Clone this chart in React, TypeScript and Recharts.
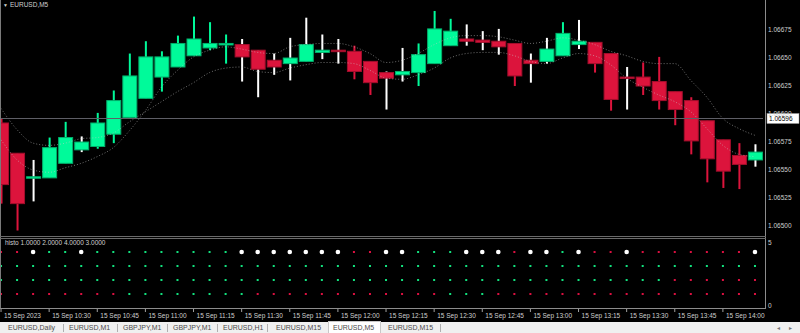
import { ComposedChart, Bar, Line, XAxis, YAxis, ReferenceLine } from "recharts";

// EURUSD M5, 15 Sep 2023, bars from 10:15 to 14:10 (heiken ashi style candles)
const open = [
  1.06592, 1.06565, 1.06543, 1.06543, 1.06556, 1.06568, 1.06571, 1.06582, 1.06597, 1.06614,
  1.06633, 1.06642, 1.06652, 1.06659, 1.06662, 1.06662, 1.06657, 1.06648, 1.06645, 1.06647,
  1.06655, 1.06657, 1.06656, 1.06647, 1.06637, 1.06635, 1.06637, 1.06645, 1.06661, 1.06667,
  1.06666, 1.06665, 1.06663, 1.06648, 1.06647, 1.06652, 1.06662, 1.06664, 1.06654, 1.06633,
  1.06633, 1.06629, 1.0662, 1.06612, 1.06594, 1.06577, 1.06563, 1.06559,
];
const high = [
  1.06596, 1.06565, 1.06559, 1.06579, 1.06593, 1.0658, 1.06601, 1.06621, 1.06654, 1.06665,
  1.06656, 1.0667, 1.06687, 1.06682, 1.06671, 1.06667, 1.06657, 1.06654, 1.06668, 1.06686,
  1.06671, 1.06667, 1.06661, 1.06647, 1.06638, 1.06659, 1.06663, 1.06692, 1.06685, 1.0668,
  1.06674, 1.06676, 1.06663, 1.06654, 1.06668, 1.06682, 1.06684, 1.06664, 1.06654, 1.06642,
  1.06646, 1.06651, 1.0662, 1.06615, 1.06594, 1.06577, 1.06574, 1.06573,
];
const low = [
  1.0652, 1.06496, 1.06522, 1.06543, 1.06556, 1.06566, 1.06569, 1.06574, 1.06597, 1.06614,
  1.0662, 1.06642, 1.06652, 1.06657, 1.06645, 1.06629, 1.06615, 1.06635, 1.0663, 1.06647,
  1.06649, 1.06645, 1.06631, 1.06617, 1.06604, 1.06629, 1.06625, 1.06645, 1.06661, 1.06661,
  1.06657, 1.06653, 1.06625, 1.06628, 1.06645, 1.06652, 1.06658, 1.06637, 1.06603, 1.06604,
  1.06617, 1.06604, 1.0659, 1.06564, 1.06539, 1.06534, 1.06533, 1.06553,
];
const close = [
  1.06537, 1.0652, 1.06544, 1.0657, 1.06579, 1.06575, 1.06592, 1.06612, 1.06634, 1.06651,
  1.06651, 1.06663, 1.06667, 1.06663, 1.06663, 1.06651, 1.0664, 1.06642, 1.0665, 1.06662,
  1.06657, 1.06656, 1.06638, 1.06628, 1.06632, 1.06638, 1.06653, 1.06676, 1.06674, 1.06665,
  1.06664, 1.0666, 1.06634, 1.06645, 1.06658, 1.06672, 1.06665, 1.06645, 1.06613, 1.06632,
  1.06625, 1.06612, 1.06604, 1.06576, 1.0656, 1.06549, 1.06555, 1.06566,
];

// the two dotted moving averages
const maFast = [
  1.06577, 1.06559, 1.0655, 1.06548, 1.06552, 1.06556, 1.06562, 1.0657, 1.06585, 1.06603,
  1.06624, 1.06639, 1.06651, 1.06657, 1.0666, 1.06658, 1.06655, 1.06654, 1.0666, 1.06662,
  1.06663, 1.06663, 1.0666, 1.06654, 1.06646, 1.06648, 1.06654, 1.06662, 1.06668, 1.0667,
  1.0667, 1.06669, 1.06666, 1.06663, 1.06665, 1.06668, 1.06666, 1.06662, 1.06656, 1.06652,
  1.06647, 1.06645, 1.06645, 1.0663, 1.06615, 1.06596, 1.06587, 1.06581,
];
const maSlow = [
  1.06605, 1.06586, 1.06574, 1.06572, 1.06574, 1.06578, 1.06579, 1.06583, 1.06593, 1.06602,
  1.06611, 1.0662, 1.06628, 1.06637, 1.06641, 1.06642, 1.06638, 1.06637, 1.06641, 1.06644,
  1.06646, 1.06646, 1.06645, 1.06639, 1.06632, 1.06631, 1.06635, 1.06641, 1.0665, 1.06654,
  1.06655, 1.06655, 1.06652, 1.06647, 1.06645, 1.0665, 1.06654, 1.06652, 1.06644, 1.06632,
  1.06624, 1.06617, 1.06611, 1.06602, 1.06587, 1.06572, 1.06564, 1.06562,
];

// histo rows: u = up (green), d = down (red), n = neutral (white)
const sig4 = ("ddnuun" + "uuuuuuuuu" + "nnnnnnn" + "ddnnuuunnndnnunddn" + "ddddddd" + "n").split("");
const sig3 = ("uuuuuuuuuuuu" + "uuuuuuuuuuuu" + "uuuuuuuuuuuu" + "uuuuuuuuuuuu").split("");
const sig2 = ("uuuuuuuuuuuu" + "uuuuuuuuuuuu" + "uuuuuuuuuuuu" + "uuuuuu" + "dddddd").split("");
const sig1 = ("dddddddd" + "uuuuuuuu" + "dddddddddddd" + "uuu" + "ddddddddddddddddd").split("");

const tickBars = [0, 3, 6, 9, 12, 15, 18, 21, 24, 27, 30, 33, 36, 39, 42, 45];
const tickLabels = [
  "15 Sep 2023", "15 Sep 10:30", "15 Sep 10:45", "15 Sep 11:00", "15 Sep 11:15", "15 Sep 11:30",
  "15 Sep 11:45", "15 Sep 12:00", "15 Sep 12:15", "15 Sep 12:30", "15 Sep 12:45", "15 Sep 13:00",
  "15 Sep 13:15", "15 Sep 13:30", "15 Sep 13:45", "15 Sep 14:00",
];
const priceTicks = [1.065, 1.06525, 1.0655, 1.06575, 1.066, 1.06625, 1.0665, 1.06675];
const bidPrice = 1.06596;

const tabs = [
  { name: "EURUSD,Daily", x: 8 },
  { name: "EURUSD,M1", x: 69 },
  { name: "GBPJPY,M1", x: 123 },
  { name: "GBPJPY,M1", x: 173 },
  { name: "EURUSD,H1", x: 223 },
  { name: "EURUSD,M15", x: 276 },
  { name: "EURUSD,M5", x: 333 },
  { name: "EURUSD,M15", x: 388 },
];
const tabSeps = [63, 117, 167, 217, 267, 440];

const GREEN = "#00fa9a";
const RED = "#dc143c";
const DOT_G = "#12e27e";
const DOT_R = "#dc1040";
const FONT = "'Liberation Sans', Arial, sans-serif";
const TXT = "#cfcfcf";

const candles = open.map((o, i) => ({
  i,
  o,
  h: high[i],
  l: low[i],
  c: close[i],
  s: sig4[i],
  ma1: maFast[i],
  ma2: maSlow[i],
}));

const sigRows = sig4.map((s, i) => ({
  i,
  s4: s,
  s3: sig3[i],
  s2: sig2[i],
  s1: sig1[i],
  r4: 4,
  r3: 3,
  r2: 2,
  r1: 1,
}));

const Candle = (props: any) => {
  const { x, y, width, height, payload } = props;
  if (!payload) return null;
  const top = Math.min(y, y + height);
  const span = Math.abs(height);
  const range = payload.h - payload.l || 1e-9;
  const yOf = (v: number) => top + ((payload.h - v) / range) * span;
  const bull = payload.c >= payload.o;
  const cx = x + width / 2;
  const bTop = yOf(Math.max(payload.o, payload.c));
  const bBot = yOf(Math.min(payload.o, payload.c));
  const bh = Math.max(bBot - bTop, 1.5);
  const wick = payload.s === "n" ? "#ffffff" : payload.s === "u" ? GREEN : RED;
  return (
    <g>
      <rect x={cx - 1} y={top} width={2} height={span} fill={wick} />
      <rect
        x={x + 0.5}
        y={bTop}
        width={width - 1}
        height={bh}
        fill={bull ? GREEN : RED}
        stroke={bull ? "#00b06c" : "#a30e2c"}
        strokeWidth={1}
      />
    </g>
  );
};

const PriceTag = (props: any) => {
  const vb = props.viewBox;
  if (!vb) return null;
  const x = vb.x + vb.width + 4;
  const y = vb.y;
  return (
    <g>
      <rect x={x} y={y - 5} width={32} height={10} fill="#ffffff" stroke="#9a9a9a" strokeWidth={0.5} />
      <text x={x + 2} y={y + 2.5} fontSize={6.5} fill="#000" fontFamily={FONT}>
        {bidPrice.toFixed(5)}
      </text>
    </g>
  );
};

const TimeTick = (props: any) => {
  const { x, y, payload } = props;
  const k = tickBars.indexOf(payload.value);
  return (
    <g>
      <line x1={x} x2={x} y1={y + 1} y2={y + 4} stroke="#a0a0a0" strokeWidth={1} />
      <text x={x + 3} y={y + 10} fontSize={6.5} fill={TXT} fontFamily={FONT}>
        {tickLabels[k]}
      </text>
    </g>
  );
};

const LevelTick = (props: any) => {
  const { x, y, payload } = props;
  return (
    <text x={x} y={payload.value === 5 ? y + 6.5 : y - 0.5} fontSize={6.5} fill={TXT} fontFamily={FONT}>
      {payload.value}
    </text>
  );
};

const SigDot = (props: any) => {
  const { cx, cy, payload, k } = props;
  if (cx == null || !payload) return null;
  const s = payload[k];
  if (s === "n") return <circle cx={cx} cy={cy} r={2.3} fill="#ffffff" />;
  return <rect x={cx - 1} y={cy - 1} width={2} height={2} fill={s === "u" ? DOT_G : DOT_R} />;
};

const line = (left: number, top: number, w: number, h: number, bg: string) => (
  <div style={{ position: "absolute", left, top, width: w, height: h, background: bg }} />
);

export default function App() {
  return (
    <div
      style={{
        position: "fixed",
        left: 0,
        top: 0,
        width: 800,
        height: 333,
        background: "#000",
        overflow: "hidden",
        fontFamily: FONT,
      }}
    >
      <div style={{ position: "absolute", left: -7.4, top: 0 }}>
        <ComposedChart width={810} height={236} data={candles} margin={{ top: 0, right: 0, bottom: 0, left: 0 }}>
          <XAxis dataKey="i" hide />
          <YAxis
            orientation="right"
            width={40}
            domain={[1.064911, 1.067018]}
            allowDataOverflow
            ticks={priceTicks}
            interval={0}
            tickFormatter={(v: number) => v.toFixed(5)}
            axisLine={false}
            tickLine={false}
            tickSize={0}
            tickMargin={5}
            tick={{ fill: TXT, fontSize: 6.5, fontFamily: FONT }}
          />
          <Bar dataKey={(d: any) => [d.l, d.h]} barSize={15} shape={Candle} isAnimationActive={false} />
          <Line
            dataKey="ma1"
            type="monotone"
            stroke="#c8c8c8"
            strokeOpacity={0.55}
            strokeWidth={1}
            strokeDasharray="1 2"
            dot={false}
            activeDot={false}
            isAnimationActive={false}
          />
          <Line
            dataKey="ma2"
            type="monotone"
            stroke="#c8c8c8"
            strokeOpacity={0.55}
            strokeWidth={1}
            strokeDasharray="1 2"
            dot={false}
            activeDot={false}
            isAnimationActive={false}
          />
          <ReferenceLine y={bidPrice} stroke="#5e5e66" strokeWidth={1} label={<PriceTag />} />
        </ComposedChart>
      </div>

      <div style={{ position: "absolute", left: -7.4, top: 238 }}>
        <ComposedChart width={810} height={84} data={sigRows} margin={{ top: 0, right: 0, bottom: 0, left: 0 }}>
          <XAxis
            dataKey="i"
            scale="band"
            ticks={tickBars}
            interval={0}
            height={14}
            axisLine={false}
            tickLine={false}
            tickSize={0}
            tickMargin={0}
            tick={<TimeTick />}
          />
          <YAxis
            orientation="right"
            width={40}
            domain={[0, 5]}
            ticks={[0, 5]}
            interval={0}
            axisLine={false}
            tickLine={false}
            tickSize={0}
            tickMargin={5}
            tick={<LevelTick />}
          />
          {["r4", "r3", "r2", "r1"].map((r, j) => (
            <Line
              key={r}
              dataKey={r}
              stroke="none"
              dot={<SigDot k={"s" + (4 - j)} />}
              activeDot={false}
              isAnimationActive={false}
            />
          ))}
        </ComposedChart>
      </div>

      {line(0, 0, 1, 308, "#7a7a7a")}
      {line(765, 0, 1, 308, "#8c8c8c")}
      {line(0, 236, 766, 1, "#6a6a6a")}
      {line(0, 238, 766, 1, "#6a6a6a")}
      {line(0, 308, 766, 1, "#8c8c8c")}

      <div style={{ position: "absolute", left: 3, top: 0, fontSize: 6.5, color: TXT, lineHeight: "9px" }}>
        <span style={{ fontSize: 5, marginRight: 2 }}>▼</span>EURUSD,M5
      </div>
      <div style={{ position: "absolute", left: 5, top: 238, fontSize: 6.5, color: TXT, lineHeight: "9px" }}>
        histo 1.0000 2.0000 4.0000 3.0000
      </div>

      <div style={{ position: "absolute", left: 0, top: 322, width: 800, height: 11, background: "#f0f0f0" }}>
        <div
          style={{
            position: "absolute",
            left: 328,
            top: -1,
            width: 53,
            height: 12,
            background: "#ffffff",
            border: "1px solid #c8c8c8",
            borderBottom: "none",
            boxSizing: "border-box",
          }}
        />
        {tabSeps.map((x, k) => (
          <div key={k} style={{ position: "absolute", left: x, top: 2, width: 1, height: 8, background: "#b0b0b0" }} />
        ))}
        {tabs.map((t, k) => (
          <div
            key={k}
            style={{ position: "absolute", left: t.x, top: 1, fontSize: 7, color: "#4a4a4a", lineHeight: "10px", whiteSpace: "nowrap" }}
          >
            {t.name}
          </div>
        ))}
        <div style={{ position: "absolute", left: 777, top: 1, fontSize: 6, color: "#777", lineHeight: "10px" }}>◂</div>
        <div style={{ position: "absolute", left: 789, top: 1, fontSize: 6, color: "#777", lineHeight: "10px" }}>▸</div>
      </div>
    </div>
  );
}
